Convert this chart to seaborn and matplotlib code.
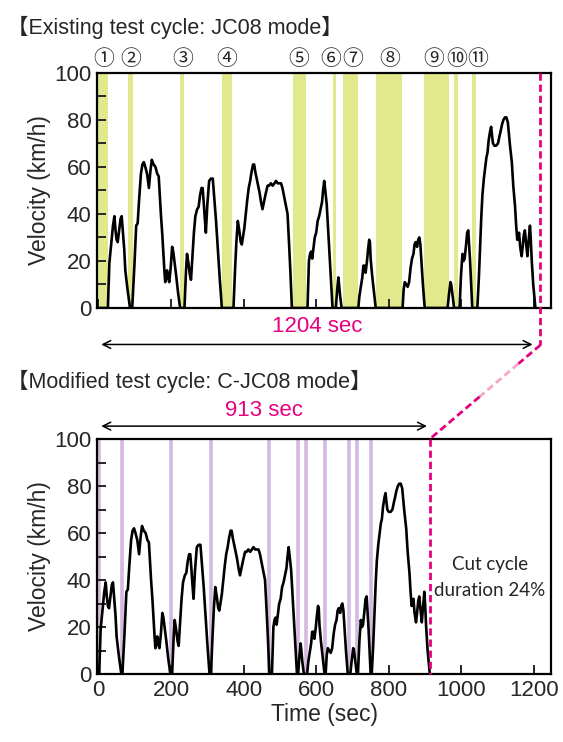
import numpy as np
import matplotlib
matplotlib.use("Agg")
import matplotlib.pyplot as plt
from matplotlib.lines import Line2D
import seaborn as sns

# JC08 velocity trace (time in s, speed in km/h), vertices of the drawn polyline
jc08_time = [
    0, 26, 30, 35, 40, 44, 47, 50, 53, 57, 61, 64, 67, 71, 74, 80, 87,
    93, 99, 104, 108, 112, 117, 121, 125, 129, 134, 139, 143, 147, 152, 157, 162, 166,
    169, 172, 176, 179, 182, 184, 187, 189, 192, 195, 199, 203, 206, 210, 214, 219, 225,
    237, 241, 244, 248, 252, 255, 259, 263, 267, 272, 276, 280, 284, 287, 290, 293, 296,
    300, 305, 310, 315, 319, 324, 329, 334, 340,
    372, 376, 380, 384, 388, 392, 395, 399, 402, 406, 410, 414, 418, 422, 426, 429, 432,
    436, 440, 444, 448, 452, 456, 460, 466, 470, 475, 480, 485, 489, 494, 499, 503, 507,
    512, 516, 521, 525, 529, 533,
    576, 580, 583, 586, 589, 592, 596, 600, 604, 608, 612, 616, 619, 622, 625, 629, 633,
    637, 641, 645,
    654, 658, 661, 663, 666, 670,
    716, 719, 723, 727, 730, 733, 736, 740, 743, 746, 748, 750, 754, 759, 764,
    838, 841, 844, 848, 852, 856, 860, 864, 868, 871, 874, 878, 881, 884, 887, 890, 894, 899,
    962, 966, 970, 972, 976, 980,
    995, 999, 1003, 1006, 1009, 1013, 1016, 1019, 1021, 1024, 1027, 1030,
    1044, 1048, 1052, 1055, 1058, 1062, 1066, 1069, 1072, 1075, 1079, 1082, 1084, 1087,
    1091, 1096, 1101, 1105, 1108, 1112, 1116, 1120, 1124, 1128, 1131, 1134, 1139, 1143,
    1148, 1151, 1154, 1157, 1159, 1162, 1166, 1169, 1172, 1175, 1178, 1182, 1185, 1189,
    1191, 1194, 1198, 1204,
]
jc08_speed = [
    0, 0, 19, 27, 35, 39, 33, 29, 28, 33, 38, 39, 33, 25, 16, 8, 0,
    0, 18, 35, 36, 46, 57, 61, 62, 60, 57, 51, 58, 63, 61, 60, 57, 56,
    48, 40, 31, 23, 15, 11, 13, 16, 13, 11, 17, 26, 24, 19, 14, 7, 0,
    0, 15, 23, 19, 14, 12, 22, 32, 39, 42, 43, 48, 51, 51, 45, 38, 32,
    44, 54, 55, 55, 47, 37, 25, 13, 0,
    0, 15, 28, 37, 33, 28, 27, 31, 34, 40, 46, 51, 54, 58, 61, 61, 58,
    55, 52, 49, 45, 42, 45, 48, 52, 52, 53, 52, 53, 54, 53, 53, 53, 51,
    47, 44, 40, 28, 15, 0,
    0, 20, 23, 24, 21, 25, 30, 32, 37, 39, 42, 45, 50, 54, 50, 44, 33,
    22, 11, 0,
    0, 8, 13, 10, 5, 0,
    0, 5, 9, 13, 18, 18, 15, 20, 25, 29, 28, 21, 14, 7, 0,
    0, 8, 11, 10, 9, 11, 17, 21, 23, 27, 28, 26, 29, 30, 27, 20, 10, 0,
    0, 6, 11, 10, 5, 0,
    0, 14, 23, 20, 21, 27, 32, 33, 28, 20, 10, 0,
    0, 12, 27, 39, 48, 55, 60, 64, 66, 71, 75, 77, 74, 70,
    69, 69, 70, 73, 75, 78, 80, 81, 81, 79, 74, 69, 62, 52,
    43, 35, 29, 31, 32, 26, 22, 26, 31, 33, 28, 22, 28, 35,
    30, 20, 10, 0,
]

# Highlighted idle periods of JC08 (s) and where their numbers sit
idle_start = [0, 81, 225, 339.5, 535, 645, 672.5, 766, 898, 980, 1030]
idle_end = [25.6, 94.5, 236.7, 367, 571.6, 654, 714, 837.6, 966, 992, 1041]
idle_labels = ["①", "②", "③", "④", "⑤", "⑥", "⑦", "⑧", "⑨", "⑩", "⑪"]
label_pos = [15, 88, 231, 353, 553, 641, 701, 802, 925, 986, 1046]

# Idle time removed at each stop to build C-JC08 (start in JC08 time, length in s)
cut_start = [2, 88, 228, 343, 533, 648, 677, 765, 903, 981, 1031]
cut_len = [24, 3, 7, 28, 36, 6, 37, 71, 56, 12, 11]

jc08_duration = 1204
cjc08_duration = 913
x_ticks = [0, 200, 400, 600, 800, 1000, 1200]
y_ticks = [0, 20, 40, 60, 80, 100]

# ---- derive the shortened cycle ----
t = np.asarray(jc08_time, dtype=float)
v = np.asarray(jc08_speed, dtype=float)
cs = np.asarray(cut_start, dtype=float)
cl = np.asarray(cut_len, dtype=float)
ce = cs + cl
inside = np.any((t[:, None] > cs) & (t[:, None] < ce), axis=1)
shift = (t[:, None] >= ce).astype(float) @ cl
t_mod = (t - shift)[~inside]
v_mod = v[~inside]
cut_marks = cs - np.concatenate([[0.0], np.cumsum(cl)[:-1]])

# ---- style ----
sns.set_style("ticks")
plt.rcParams["font.family"] = "Liberation Sans"
plt.rcParams["axes.linewidth"] = 1.6
plt.rcParams["xtick.direction"] = "in"
plt.rcParams["ytick.direction"] = "in"

CJK = ["Liberation Sans", "Noto Sans CJK JP"]
PINK = "#E5007F"
LIGHT_PINK = "#F4A6C9"
YELLOW = "#E2E88C"
VIOLET = "#D4B9DC"
FS_TICK = 16
FS_LABEL = 16.5

fig = plt.figure(figsize=(5.63, 7.42), dpi=100)
ax_top = fig.add_axes([0.1723, 0.5849, 0.8064, 0.3171])
ax_bot = fig.add_axes([0.1723, 0.0916, 0.8064, 0.3167])

for ax in (ax_top, ax_bot):
    ax.set_xlim(-4, 1247)
    ax.set_ylim(0, 100)
    ax.set_xticks(x_ticks)
    ax.set_yticks(y_ticks)
    ax.set_yticks(np.arange(10, 100, 20), minor=True)
    ax.tick_params(axis="both", which="both", length=6.5, width=1.4,
                   labelsize=FS_TICK, top=False, right=False, pad=4)
    ax.set_ylabel("Velocity (km/h)", fontsize=FS_LABEL, labelpad=2)
    for s in ax.spines.values():
        s.set_linewidth(1.6)
        s.set_color("black")

ax_top.tick_params(axis="x", labelbottom=False)

# top: JC08 with idle periods
for a, b in zip(idle_start, idle_end):
    ax_top.axvspan(a, b, color=YELLOW, lw=0, zorder=0)
sns.lineplot(x=t, y=v, ax=ax_top, color="black", lw=1.9, estimator=None,
             sort=False, zorder=3)
for lab, x in zip(idle_labels, label_pos):
    ax_top.text(x, 1.06, lab, transform=ax_top.get_xaxis_transform(),
                ha="center", va="center", fontsize=15,
                family=["Noto Sans CJK JP", "DejaVu Sans"])

# bottom: C-JC08 with cut positions
for m in cut_marks:
    ax_bot.axvline(m, color=VIOLET, lw=2.6, zorder=0)
sns.lineplot(x=t_mod, y=v_mod, ax=ax_bot, color="black", lw=1.9, estimator=None,
             sort=False, zorder=3)
ax_bot.set_xlabel("Time (sec)", fontsize=FS_LABEL, labelpad=2)
ax_bot.text(0.865, 0.41, "Cut cycle\nduration 24%", transform=ax_bot.transAxes,
            ha="center", va="center", fontsize=13.5, family="Lato", linespacing=1.6)

# duration arrows
arrow = dict(arrowstyle="<->", color="black", lw=1.1, mutation_scale=14)
ax_top.annotate("", xy=(0, -0.155), xytext=(jc08_duration, -0.155),
                xycoords=ax_top.get_xaxis_transform(), arrowprops=arrow,
                annotation_clip=False)
ax_top.text(jc08_duration / 2, -0.078, f"{jc08_duration} sec",
            transform=ax_top.get_xaxis_transform(), ha="center", va="center",
            fontsize=16, color=PINK)
ax_bot.annotate("", xy=(0, 1.055), xytext=(cjc08_duration, 1.055),
                xycoords=ax_bot.get_xaxis_transform(), arrowprops=arrow,
                annotation_clip=False)
ax_bot.text(cjc08_duration / 2, 1.122, f"{cjc08_duration} sec",
            transform=ax_bot.get_xaxis_transform(), ha="center", va="center",
            fontsize=16, color=PINK)

# titles
fig.text(0.012, 0.9636, "【Existing test cycle: JC08 mode】", fontsize=15.5,
         ha="left", va="center", family=CJK)
fig.text(0.012, 0.4865, "【Modified test cycle: C-JC08 mode】", fontsize=15.5,
         ha="left", va="center", family=CJK)

# dashed connector from end of JC08 to end of C-JC08
end_mark = 1218
to_fig = fig.transFigure.inverted()
p1 = to_fig.transform(ax_top.get_xaxis_transform().transform((end_mark, 1.0)))
p2 = to_fig.transform(ax_top.get_xaxis_transform().transform((end_mark, -0.157)))
p3 = to_fig.transform(ax_bot.get_xaxis_transform().transform((cjc08_duration, 1.0)))
p4 = to_fig.transform(ax_bot.get_xaxis_transform().transform((cjc08_duration, 0.0)))
dash = dict(lw=2.0, ls=(0, (2.6, 1.4)), transform=fig.transFigure, zorder=10)
fig.add_artist(Line2D([p1[0], p2[0]], [p1[1], p2[1]], color=PINK, **dash))
q1 = p2 + 0.2 * (p3 - p2)
q2 = p2 + 0.55 * (p3 - p2)
fig.add_artist(Line2D([p2[0], q1[0]], [p2[1], q1[1]], color=PINK, **dash))
fig.add_artist(Line2D([q1[0], q2[0]], [q1[1], q2[1]], color=LIGHT_PINK, **dash))
fig.add_artist(Line2D([q2[0], p3[0]], [q2[1], p3[1]], color=PINK, **dash))
fig.add_artist(Line2D([p3[0], p4[0]], [p3[1], p4[1]], color=PINK, **dash))

fig.savefig("out.png", dpi=100)
